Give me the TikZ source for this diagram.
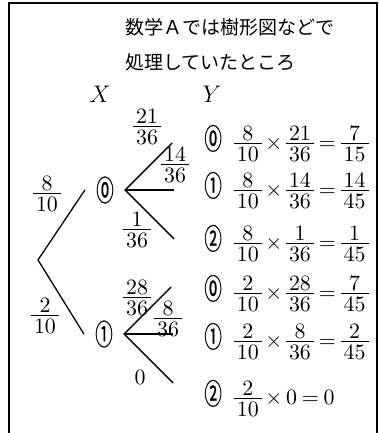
\documentclass[tikz,border=0pt]{standalone}
\usepackage{fontspec}
\usetikzlibrary{positioning,calc}
\newfontfamily\jpfont{Noto Sans CJK JP}
\newfontfamily\circfont[FakeStretch=0.6,FakeBold=0.6]{Noto Sans CJK JP}
\newcommand{\CircZero}{{\circfont\fontsize{14.5}{16}\selectfont ⓪}}
\newcommand{\CircOne}{{\circfont\fontsize{14.5}{16}\selectfont ①}}
\newcommand{\CircTwo}{{\circfont\fontsize{14.5}{16}\selectfont ②}}
\newcommand{\RowSpacing}{\medmuskip=3mu\relax\thickmuskip=4mu\relax}
% compact fraction, bar close to the digits
\newcommand{\pr}[2]{\vcenter{\offinterlineskip
  \halign{\hfil\kern1.5pt$##$\kern1.5pt\hfil\cr
    #1\cr\noalign{\kern1.2pt\hrule height0.45pt\kern1.4pt}
    #2\cr}}}
\def\ForkLength{47}
\tikzset{
  frameline/.style={line width=0.9pt},
  branch/.style={line width=0.65pt},
  outcome/.style={inner xsep=5.5pt, inner ysep=1pt},
  prob/.style={inner sep=0pt, font=\fontsize{11}{13}\selectfont},
  result/.style={anchor=west, inner sep=0pt,
    font=\fontsize{11}{13}\selectfont\RowSpacing},
  heading/.style={anchor=west, inner sep=0pt, font=\jpfont\fontsize{9.5}{11}\selectfont},
  varname/.style={inner sep=0pt, font=\fontsize{12}{14}\selectfont}
}
\begin{document}
\begin{tikzpicture}[x=0.5pt,y=-0.5pt]
  \useasboundingbox (0,0) rectangle (379,433);
  \draw[frameline] (9,433) -- (9,3) -- (377,3) -- (377,433);

  \node[heading] (title1) at (125,27) {数学Ａでは樹形図などで};
  \node[heading] (title2) at (125,62) {処理していたところ};

  \node[varname] (X) at (100,94) {$X$};
  \node[varname] (Y) at (212,94) {$Y$};

  % first draw of X
  \coordinate (root) at (38,260);
  \node[outcome] (x0) at (105,190) {\CircZero};
  \node[outcome] (x1) at (104,334) {\CircOne};
  \draw[branch] (x0.west) -- (root) -- (x1.west);
  \node[prob] (p0) at (47,194) {$\pr{8}{10}$};
  \node[prob] (p1) at (45,316) {$\pr{2}{10}$};

  % then Y for each value of X
  \foreach \x in {x0,x1} {
    \coordinate (\x up) at ($(\x.east)+(\ForkLength,-\ForkLength)$);
    \coordinate (\x mid) at ($(\x.east)+(\ForkLength+2,0)$);
    \coordinate (\x down) at ($(\x.east)+(\ForkLength+2,\ForkLength+2)$);
    \draw[branch] (\x up) -- (\x.east) -- (\x down);
    \draw[branch] (\x.east) -- (\x mid);
  }
  \node[prob] (q00) at (147,127) {$\pr{21}{36}$};
  \node[prob] (q01) at (175,165) {$\pr{14}{36}$};
  \node[prob] (q02) at (137,230) {$\pr{1}{36}$};
  \node[prob] (q10) at (137,298) {$\pr{28}{36}$};
  \node[prob] (q11) at (168,319) {$\pr{8}{36}$};
  \node[prob] (q12) at (140,377) {$0$};

  \node[result] (r00) at (204,143) {\CircZero\hspace{6pt}$\pr{8}{10}\times\pr{21}{36}=\pr{7}{15}$};
  \node[result] (r01) at (204,190) {\CircOne\hspace{6pt}$\pr{8}{10}\times\pr{14}{36}=\pr{14}{45}$};
  \node[result] (r02) at (204,243) {\CircTwo\hspace{6pt}$\pr{8}{10}\times\pr{1}{36}=\pr{1}{45}$};
  \node[result] (r10) at (204,293) {\CircZero\hspace{6pt}$\pr{2}{10}\times\pr{28}{36}=\pr{7}{45}$};
  \node[result] (r11) at (204,341) {\CircOne\hspace{6pt}$\pr{2}{10}\times\pr{8}{36}=\pr{2}{45}$};
  \node[result] (r12) at (204,398) {\CircTwo\hspace{6pt}$\pr{2}{10}\times 0=0$};
\end{tikzpicture}
\end{document}
